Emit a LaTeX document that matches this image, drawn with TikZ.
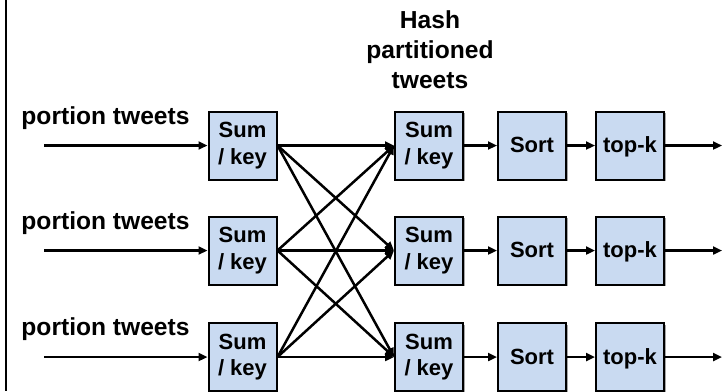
\documentclass[tikz,border=0pt]{standalone}
\usepackage{fontspec}
\setmainfont{Liberation Sans}
\usetikzlibrary{arrows.meta,shadows}
\definecolor{boxblue}{RGB}{201,218,241}
\begin{document}
\begin{tikzpicture}[x=0.5pt,y=-0.5pt,
  opbox/.style={draw=black, line width=1pt, fill=boxblue,
    minimum width=34pt, minimum height=34pt, inner sep=0pt,
    align=center, font=\fontsize{11pt}{13.3pt}\selectfont\bfseries,
    drop shadow={shadow xshift=0.8pt, shadow yshift=-0.8pt, opacity=0.35, fill=black}},
  oneline/.style={text height=0.72em, text depth=0pt},
  lbl/.style={font=\fontsize{12.3pt}{15pt}\selectfont\bfseries, inner sep=0pt, align=center},
  flow/.style={line width=1.25pt, -{Triangle[length=4.5pt,width=4pt]}},
]
\useasboundingbox (0,0) rectangle (723,391);
% frame edge on the left
\draw[line width=1pt] (6,0) -- (6,391);

% header over the partitioned stage
\node[lbl] (hdr) at (430,50) {Hash\\partitioned\\tweets};

\foreach \i/\y in {1/145.5, 2/250.5, 3/357} {
  \node[opbox] (s\i) at (242.5,\y) {Sum\\/ key};
  \node[opbox] (h\i) at (429,\y) {Sum\\/ key};
  \node[opbox,oneline] (o\i) at (532,\y) {Sort};
  \node[opbox,oneline] (k\i) at (630,\y) {top-k};
  \node[lbl] (p\i) at (105.5,\y-27.5) {portion tweets};
  \coordinate (in\i) at (44,\y);
  \coordinate (out\i) at (722,\y);
  \draw[flow] (in\i) -- (s\i.west);
  \draw[flow] (h\i.east) -- (o\i.west);
  \draw[flow] (o\i.east) -- (k\i.west);
  \draw[flow] (k\i.east) -- (out\i);
}

% all-to-all shuffle between the two Sum / key stages
\foreach \a in {1,2,3} {
  \foreach \b in {1,2,3} {
    \draw[flow] (s\a.east) -- (h\b.west);
  }
}
\end{tikzpicture}
\end{document}
